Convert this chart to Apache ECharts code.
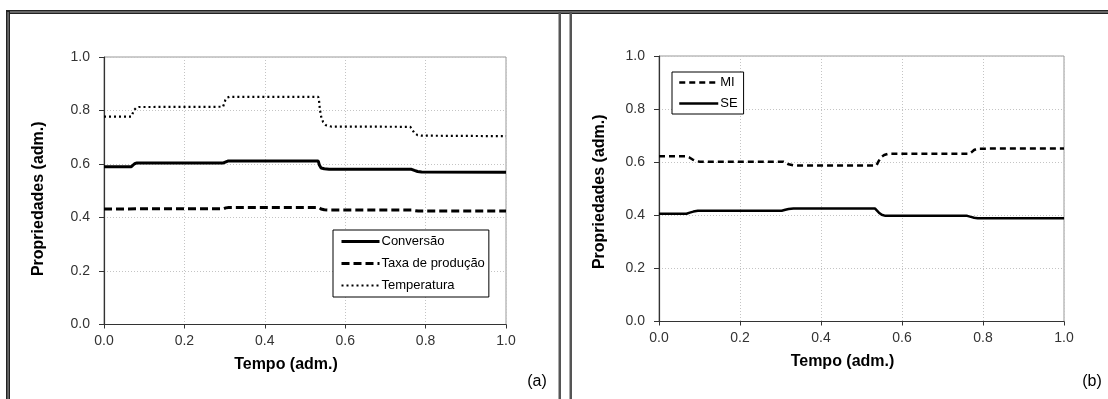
<!DOCTYPE html>
<html><head><meta charset="utf-8">
<script src="https://cdn.jsdelivr.net/npm/echarts@6/dist/echarts.min.js"></script>
<style>html,body{margin:0;padding:0;background:#fff}#c{width:1108px;height:399px}</style>
</head><body><div id="c"></div>
<script>
// Panel (a)
const conversao = [[0,0.590],[0.068,0.590],[0.072,0.596],[0.076,0.601],[0.082,0.604],[0.297,0.604],[0.301,0.608],[0.308,0.611],[0.533,0.611],[0.536,0.595],[0.540,0.585],[0.548,0.582],[0.560,0.580],[0.765,0.580],[0.772,0.576],[0.780,0.572],[0.790,0.570],[1.0,0.569]];
const taxaProducao = [[0,0.432],[0.298,0.433],[0.303,0.436],[0.310,0.437],[0.535,0.437],[0.540,0.432],[0.548,0.429],[0.560,0.428],[0.765,0.428],[0.772,0.426],[0.782,0.424],[1.0,0.424]];
const temperatura = [[0,0.777],[0.068,0.777],[0.071,0.788],[0.075,0.802],[0.080,0.810],[0.086,0.813],[0.296,0.814],[0.299,0.826],[0.302,0.840],[0.306,0.848],[0.312,0.851],[0.533,0.851],[0.535,0.835],[0.537,0.805],[0.540,0.778],[0.545,0.757],[0.552,0.745],[0.565,0.740],[0.762,0.739],[0.767,0.728],[0.772,0.716],[0.780,0.708],[0.790,0.706],[1.0,0.704]];
// Panel (b)
const mi = [[0,0.622],[0.068,0.622],[0.075,0.618],[0.083,0.610],[0.092,0.604],[0.101,0.602],[0.307,0.602],[0.313,0.598],[0.320,0.592],[0.332,0.588],[0.537,0.588],[0.542,0.603],[0.548,0.618],[0.556,0.627],[0.567,0.632],[0.766,0.632],[0.772,0.638],[0.778,0.646],[0.787,0.651],[1.0,0.652]];
const se = [[0,0.406],[0.068,0.406],[0.076,0.410],[0.085,0.414],[0.096,0.417],[0.303,0.417],[0.312,0.421],[0.320,0.424],[0.332,0.426],[0.533,0.426],[0.537,0.420],[0.543,0.410],[0.550,0.402],[0.559,0.398],[0.761,0.398],[0.770,0.394],[0.778,0.391],[0.787,0.389],[1.0,0.389]];
const legendA = ['Conversão','Taxa de produção','Temperatura'];
const legendB = ['MI','SE'];
const axisTitleX = 'Tempo (adm.)';
const axisTitleY = 'Propriedades (adm.)';
const panelTags = ['(a)','(b)'];

const FONT = 'Liberation Sans, Arial, sans-serif';
const styleOf = {
  'Conversão':{width:3,type:'solid'},
  'Taxa de produção':{width:3,type:[8,4]},
  'Temperatura':{width:2.2,type:[2,3]},
  'MI':{width:2.5,type:[6,4]},
  'SE':{width:2.5,type:'solid'}
};
function xAx(gi){
  return {gridIndex:gi,type:'value',min:0,max:1,interval:0.2,
    name:axisTitleX,nameLocation:'middle',nameGap:32,
    nameTextStyle:{fontFamily:FONT,fontSize:16,fontWeight:'bold',color:'#000',padding:[0,38,0,0]},
    axisLine:{show:true,onZero:false,lineStyle:{color:'#333',width:1.2}},
    axisTick:{show:true,length:4,lineStyle:{color:'#333'}},
    axisLabel:{fontFamily:FONT,fontSize:14,color:'#333',margin:10,formatter:v=>v.toFixed(1)},
    splitLine:{show:true,lineStyle:{color:'#c4c4c4',type:[1,2],width:1}}};
}
function yAx(gi,gap,pad){
  return {gridIndex:gi,type:'value',min:0,max:1,interval:0.2,
    name:axisTitleY,nameLocation:'middle',nameGap:gap,nameRotate:90,
    nameTextStyle:{fontFamily:FONT,fontSize:16,fontWeight:'bold',color:'#000',padding:pad},
    axisLine:{show:true,onZero:false,lineStyle:{color:'#333',width:1.2}},
    axisTick:{show:true,length:5,lineStyle:{color:'#333'}},
    axisLabel:{fontFamily:FONT,fontSize:14,color:'#333',margin:14,formatter:v=>v.toFixed(1)},
    splitLine:{show:true,lineStyle:{color:'#c4c4c4',type:[1,2],width:1}}};
}
function ln(name,data,gi){
  const s = styleOf[name];
  return {name,type:'line',data,xAxisIndex:gi,yAxisIndex:gi,symbol:'none',smooth:false,
    lineStyle:{color:'#000',width:s.width,type:s.type},itemStyle:{color:'#000'},z:5};
}
function legendData(names){
  return names.map(n=>({name:n,lineStyle:{color:'#000',width:styleOf[n].width,type:styleOf[n].type}}));
}
const frame = [
  {type:'rect',shape:{x:6,y:10,width:1102,height:4},style:{fill:'#222'},silent:true},
  {type:'rect',shape:{x:8,y:11.6,width:1100,height:0.9},style:{fill:'#aaa'},silent:true},
  {type:'rect',shape:{x:6,y:10,width:4,height:389},style:{fill:'#222'},silent:true},
  {type:'rect',shape:{x:7.6,y:12,width:0.9,height:387},style:{fill:'#aaa'},silent:true},
  {type:'rect',shape:{x:558.5,y:12,width:2.5,height:387},style:{fill:'#555'},silent:true},
  {type:'rect',shape:{x:569.5,y:12,width:2.5,height:387},style:{fill:'#555'},silent:true},
  {type:'text',x:537,y:382,style:{text:panelTags[0],font:'16px '+FONT,fill:'#000',textAlign:'center',textVerticalAlign:'middle'}},
  {type:'text',x:1092,y:382,style:{text:panelTags[1],font:'16px '+FONT,fill:'#000',textAlign:'center',textVerticalAlign:'middle'}}
];
const legendItemStyle = {opacity:0,color:'transparent',borderWidth:0};
const chart = echarts.init(document.getElementById('c'),null,{renderer:'canvas'});
chart.setOption({
  animation:false,
  backgroundColor:'#fff',
  grid:[
    {left:104,top:57,width:402,height:267.5,show:true,borderColor:'#999',borderWidth:1,backgroundColor:'transparent'},
    {left:659,top:56,width:405,height:265.5,show:true,borderColor:'#999',borderWidth:1,backgroundColor:'transparent'}
  ],
  xAxis:[xAx(0),xAx(1)],
  yAxis:[yAx(0,57,[0,16,0,0]),yAx(1,51,[0,6,0,0])],
  legend:[
    {data:legendData(legendA),orient:'vertical',left:333,top:230,itemWidth:38,itemHeight:14,itemGap:9,
     padding:[5,4,5,7],borderColor:'#000',borderWidth:1,backgroundColor:'#fff',selectedMode:false,
     itemStyle:legendItemStyle,
     textStyle:{fontFamily:FONT,fontSize:13,color:'#000',padding:[0,0,0,-3]}},
    {data:legendData(legendB),orient:'vertical',left:672,top:72,itemWidth:39,itemHeight:14,itemGap:8,
     padding:[4,6,4,6],borderColor:'#000',borderWidth:1,backgroundColor:'#fff',selectedMode:false,
     itemStyle:legendItemStyle,
     textStyle:{fontFamily:FONT,fontSize:13,color:'#000',padding:[0,0,0,-3]}}
  ],
  series:[
    ln('Conversão',conversao,0),
    ln('Taxa de produção',taxaProducao,0),
    ln('Temperatura',temperatura,0),
    ln('MI',mi,1),
    ln('SE',se,1)
  ],
  graphic:frame
});
</script></body></html>
